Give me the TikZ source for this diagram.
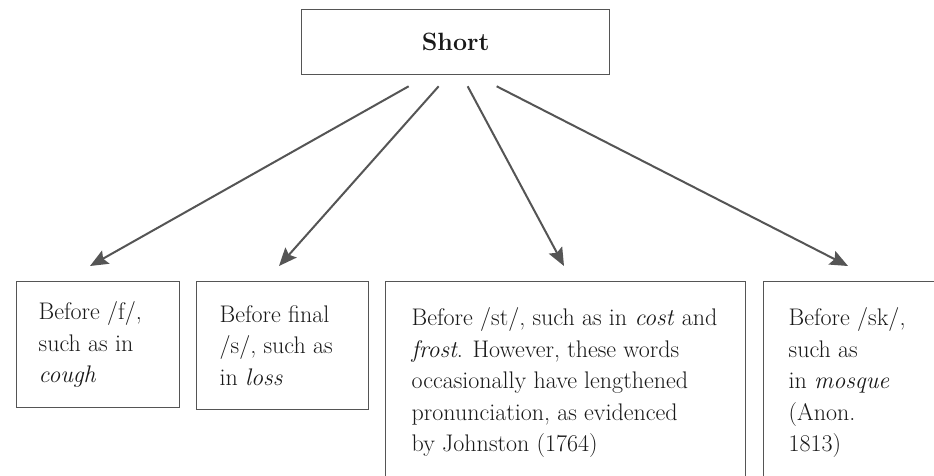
\documentclass[tikz,border=0pt]{standalone}
\usetikzlibrary{arrows.meta}
\definecolor{linegray}{RGB}{85,85,85}
\definecolor{textdark}{RGB}{25,25,25}
\begin{document}
\begin{tikzpicture}[x=1pt,y=-1pt,
  boxstyle/.style={draw=linegray, line width=1.3pt, anchor=north west, inner xsep=0pt, inner ysep=0pt,
    align=left, text=textdark, font=\fontsize{24}{31.5}\selectfont},
  arr/.style={draw=linegray, line width=2pt, -{Stealth[length=18pt,width=15pt,inset=3pt]}}
]
\clip (0,0) rectangle (934,476);
\fill[white] (0,0) rectangle (934,476);
\node[draw=linegray, line width=1.3pt, minimum width=308pt, minimum height=65pt, anchor=north west,
  text=textdark, font=\fontsize{25}{30}\selectfont\bfseries] (top) at (301,9) {Short};

\node[boxstyle, minimum width=163pt, minimum height=126pt] (b1) at (16,281)
  {\hspace*{21pt}\parbox[c]{140pt}{\raggedright Before /f/,\\ such as in\\ \textit{cough}}};
\node[boxstyle, minimum width=172pt, minimum height=128pt] (b2) at (196,281)
  {\hspace*{22pt}\parbox[c]{148pt}{\raggedright Before final\\ /s/, such as\\ in \textit{loss}}};
\node[boxstyle, minimum width=360pt, minimum height=202pt] (b3) at (385,281)
  {\hspace*{25pt}\parbox[c]{333pt}{\raggedright Before /st/, such as in \textit{cost} and\\ \textit{frost}. However, these words\\ occasionally have lengthened\\ pronunciation, as evidenced\\ by Johnston (1764)}};
\node[boxstyle, minimum width=172pt, minimum height=202pt] (b4) at (763,281)
  {\hspace*{24pt}\parbox[c]{146pt}{\raggedright Before /sk/,\\ such as\\ in \textit{mosque}\\ (Anon.\\ 1813)}};

\coordinate (s1) at ([xshift=-47pt,yshift=-11pt]top.south);
\coordinate (s2) at ([xshift=-17pt,yshift=-11pt]top.south);
\coordinate (s3) at ([xshift=12pt,yshift=-11pt]top.south);
\coordinate (s4) at ([xshift=41pt,yshift=-11pt]top.south);
\coordinate (e1) at ([xshift=74pt,yshift=15pt]b1.north west);
\coordinate (e2) at ([xshift=83pt,yshift=15pt]b2.north west);
\coordinate (e3) at ([xshift=179pt,yshift=15pt]b3.north west);
\coordinate (e4) at ([xshift=85pt,yshift=15pt]b4.north west);
\draw[arr] (s1) -- (e1);
\draw[arr] (s2) -- (e2);
\draw[arr] (s3) -- (e3);
\draw[arr] (s4) -- (e4);
\end{tikzpicture}
\end{document}
